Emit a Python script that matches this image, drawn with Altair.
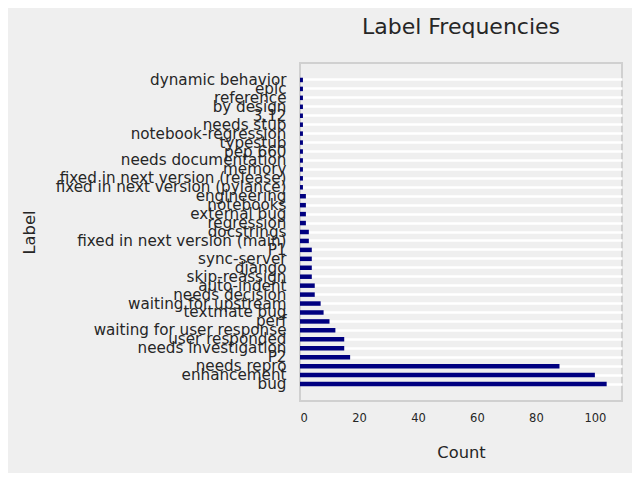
import altair as alt
import pandas as pd

# label names, most frequent first
labels = [
    "bug", "enhancement", "needs repro", "P2", "needs investigation",
    "user responded", "waiting for user response", "perf", "textmate bug",
    "waiting for upstream", "needs decision", "auto-indent", "skip-reassign",
    "django", "sync-server", "P1", "fixed in next version (main)",
    "docstrings", "regression", "external bug", "notebooks", "engineering",
    "fixed in next version (pylance)", "fixed in next version (release)",
    "memory", "needs documentation", "pep 660", "typestub",
    "notebook-regression", "needs stub", "3.12", "by design", "reference",
    "epic", "dynamic behavior",
]
counts = [
    104, 100, 88, 17, 15,
    15, 12, 10, 8,
    7, 5, 5, 4,
    4, 4, 4, 3,
    3, 2, 2, 2, 2,
    1, 1,
    1, 1, 1, 1,
    1, 1, 1, 1, 1,
    1, 1,
]
x_ticks = [0, 20, 40, 60, 80, 100]

df = pd.DataFrame({"Label": labels, "Count": counts})

FONT = "DejaVu Sans"
TEXT = "#262626"
BG = "#efefef"

chart = (
    alt.Chart(df)
    .mark_bar(color="#000080", size=4.5)
    .encode(
        x=alt.X(
            "Count:Q",
            scale=alt.Scale(domain=[0, 109.2], nice=False, zero=True),
            axis=alt.Axis(
                values=x_ticks,
                grid=False,
                ticks=False,
                domain=False,
                labelFontSize=11.5,
                labelPadding=11,
                labelColor=TEXT,
                titleFontSize=16.3,
                titleFontWeight="normal",
                titleColor=TEXT,
                titlePadding=21,
            ),
        ),
        y=alt.Y(
            "Label:N",
            sort=labels[::-1],
            # matplotlib-style margins above and below the category band
            scale=alt.Scale(range=[12.5, 325.5], paddingInner=0, paddingOuter=0),
            axis=alt.Axis(
                grid=True,
                gridColor="white",
                gridWidth=2.5,
                bandPosition=0.5,
                ticks=False,
                domain=False,
                labelFontSize=15.2,
                labelPadding=14,
                labelColor=TEXT,
                labelOverlap=False,
                labelLimit=0,
                titleFontSize=16.3,
                titleFontWeight="normal",
                titleColor=TEXT,
                titleX=-263,
            ),
        ),
    )
    .properties(
        width=322,
        height=338,
        title=alt.Title(
            "Label Frequencies",
            fontSize=22,
            fontWeight="normal",
            color=TEXT,
            anchor="middle",
            offset=24,
        ),
        background=BG,
        padding={"left": 13, "top": 8, "right": 10, "bottom": 12},
    )
    .configure(font=FONT)
    .configure_view(fill=BG, stroke="#d0d0d0", strokeWidth=2)
)

chart.save("out.html", embed_options={"renderer": "svg", "actions": False})
